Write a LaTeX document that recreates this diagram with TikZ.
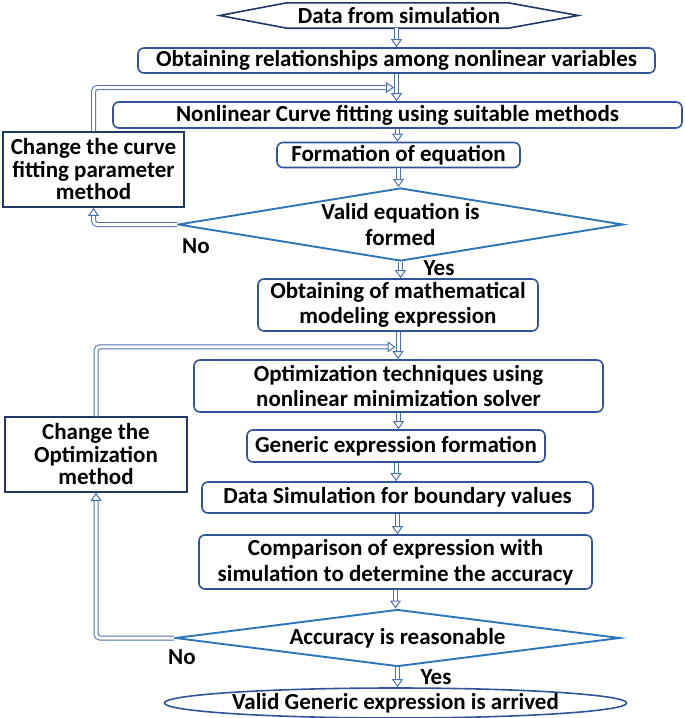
\documentclass[tikz,border=0pt]{standalone}
\usepackage{fontspec}
\setmainfont{Carlito}
\usetikzlibrary{shapes.geometric,arrows.meta,calc}
\definecolor{boxblue}{HTML}{2F5597}
\definecolor{navy}{HTML}{203864}
\definecolor{diablue}{HTML}{2E75B6}
\definecolor{arrblue}{HTML}{4F70AE}
\begin{document}
\begin{tikzpicture}[x=1pt,y=-1pt,
 txt/.style={font=\fontsize{23}{25.5}\selectfont\bfseries},
 proc/.style={txt, draw=boxblue, line width=1.6pt, rounded corners=6pt, align=center, inner sep=0pt},
 side/.style={txt, draw=navy, line width=1.8pt, align=center, inner sep=0pt, font=\fontsize{23}{22.5}\selectfont\bfseries},
 dec/.style={txt, diamond, draw=diablue, line width=1.9pt, align=center, inner sep=0pt},
 link/.style={draw=arrblue, double=white, double distance=3pt, line width=1pt, rounded corners=4pt},
 flow/.style={link, -{Triangle[open, width=11pt, length=8pt]}},
 lbl/.style={txt, inner sep=0pt}]
\useasboundingbox (0,0) rectangle (685,718);

% nodes
\node[txt, inner sep=0pt, minimum width=358pt, minimum height=25pt] (data) at (399,15.5) {Data from simulation};
\draw[navy, line width=1.6pt] (data.west) -- ([xshift=67pt]data.north west) -- ([xshift=-70pt]data.north east) -- (data.east) -- ([xshift=-70pt]data.south east) -- ([xshift=67pt]data.south west) -- cycle;

\node[proc, minimum width=517pt, minimum height=25pt] (b1) at (396.5,60.5) {Obtaining relationships among nonlinear variables};
\node[proc, minimum width=569pt, minimum height=26pt] (b2) at (397.5,115) {Nonlinear Curve fitting using suitable methods};
\node[proc, minimum width=243pt, minimum height=25pt] (b3) at (398.5,155) {Formation of equation};
\node[dec, aspect=6.1, minimum width=445pt, minimum height=73pt] (d1) at (400.5,224.5) {Valid equation is\\formed};
\node[proc, minimum width=280pt, minimum height=52pt] (b4) at (398,305) {Obtaining of mathematical\\modeling expression};
\node[proc, minimum width=409pt, minimum height=52pt] (b5) at (398.5,386) {Optimization techniques using\\nonlinear minimization solver};
\node[proc, minimum width=298pt, minimum height=32pt] (b6) at (396,446) {Generic expression formation};
\node[proc, minimum width=391pt, minimum height=31pt] (b7) at (397.5,497.5) {Data Simulation for boundary values};
\node[proc, minimum width=393pt, minimum height=54pt] (b8) at (395.5,562) {Comparison of expression with\\simulation to determine the accuracy};
\node[dec, aspect=7.8, minimum width=445pt, minimum height=57pt] (d2) at (397.5,638) {Accuracy is reasonable};
\node[txt, ellipse, draw=boxblue, line width=1.6pt, inner sep=0pt, minimum width=421pt, minimum height=30pt] (e) at (395.5,703) {Valid Generic expression is arrived};

\node[side, minimum width=181pt, minimum height=75pt] (c1) at (93.5,169.5) {Change the curve\\fitting parameter\\method};
\node[side, minimum width=182pt, minimum height=75pt] (c2) at (96,454.5) {Change the\\Optimization\\method};

% labels
\node[lbl] (no1) at (196,246) {No};
\node[lbl] (yes1) at (439,268) {Yes};
\node[lbl] (no2) at (182,657) {No};
\node[lbl] (yes2) at (436,677) {Yes};

% main flow
\draw[flow] (data.south -| b1.south) -- (b1.south |- b1.north);
\draw[flow] (b1.south) -- (b1.south |- b2.north);
\draw[flow] (b2.south) -- (b2.south |- b3.north);
\draw[flow] (b3.south) -- (b3.south |- d1.north);
\draw[flow] (d1.south) -- (d1.south |- b4.north);
\draw[flow] (b4.south) -- (b4.south |- b5.north);
\draw[flow] (b5.south) -- (b5.south |- b6.north);
\draw[flow] (b6.south) -- (b6.south |- b7.north);
\draw[flow] (b7.south) -- (b7.south |- b8.north);
\draw[flow] (b8.south) -- (b8.south |- d2.north);
\draw[flow] (d2.south) -- (d2.south |- e.north);

% feedback loops
\coordinate (m1) at ($(b1.south)!0.5!(b1.south |- b2.north)$);
\coordinate (m2) at ($(b4.south)!0.55!(b4.south |- b5.north)$);
\draw[flow] (c1.north) |- ([xshift=-2.5pt]m1);
\draw[flow] (d1.west) -| (c1.south);
\draw[flow] (c2.north) |- ([xshift=-2.5pt]m2);
\draw[flow] (d2.west) -| (c2.south);
\end{tikzpicture}
\end{document}
